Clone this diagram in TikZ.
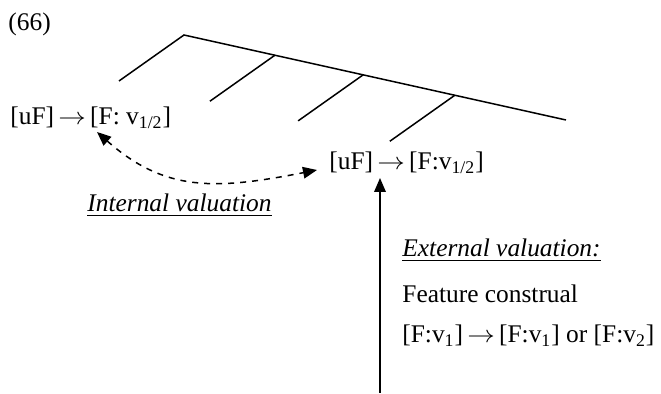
\documentclass[tikz,border=0pt]{standalone}
\usepackage{fontspec}
\usepackage{graphicx}
\setmainfont{Liberation Serif}
\usetikzlibrary{arrows.meta, calc}

\newcommand{\valto}{\scalebox{1.15}[1]{$\rightarrow$}}

\begin{document}
\begin{tikzpicture}[
    x=0.5pt, y=-0.5pt,
    branch/.style={line width=0.75pt},
    feat/.style={anchor=base west, inner sep=0pt, font=\fontsize{12.7}{15}\selectfont},
    valn/.style={line width=0.75pt, -{Triangle[length=7pt, width=5.8pt]}},
    label text/.style={feat}
]
\useasboundingbox (0,0) rectangle (661,394);

% Baum
\coordinate (top) at (184,35);
\coordinate (right) at (566,120);
\coordinate (leaf0) at (119,81);
\coordinate (n1) at ($(top)!0.238!(right)$);
\coordinate (n2) at ($(top)!0.469!(right)$);
\coordinate (n3) at ($(top)!0.709!(right)$);
\coordinate (leaf1) at ($(n1)+(-65,46)$);
\coordinate (leaf2) at ($(n2)+(-65,46)$);
\coordinate (leaf3) at ($(n3)+(-65,46)$);

\draw[branch] (leaf0) -- (top) -- (right);
\draw[branch] (n1) -- (leaf1);
\draw[branch] (n2) -- (leaf2);
\draw[branch] (n3) -- (leaf3);

% Texte
\node[label text] (ex) at (8,31) {(66)};
\node[feat] (F1) at (10,125) {[uF]\,\valto\,[F: v\textsubscript{1/2}]};
\node[feat] (F2) at (329,170) {[uF]\,\valto\,[F:v\textsubscript{1/2}]};
\node[label text] (int) at (87,212) {\underline{\textit{Internal valuation}}};
\node[label text] (ext) at (402,257) {\underline{\textit{External valuation:}}};
\node[label text] (fc) at (402,303) {Feature construal};
\node[label text] (fv) at (402,343) {[F:v\textsubscript{1}]\,\valto\,[F:v\textsubscript{1}] or [F:v\textsubscript{2}]};

% Pfeile
\coordinate (i1) at (97,132);
\coordinate (i2) at (317,170);
\draw[valn, dashed, {Triangle[length=7pt, width=5.8pt]}-{Triangle[length=7pt, width=5.8pt]}]
    (i1) .. controls (165,192) and (215,190) .. (i2);

\coordinate (e1) at (380,393);
\coordinate (e2) at (380,178);
\draw[valn] (e1) -- (e2);

\end{tikzpicture}
\end{document}
